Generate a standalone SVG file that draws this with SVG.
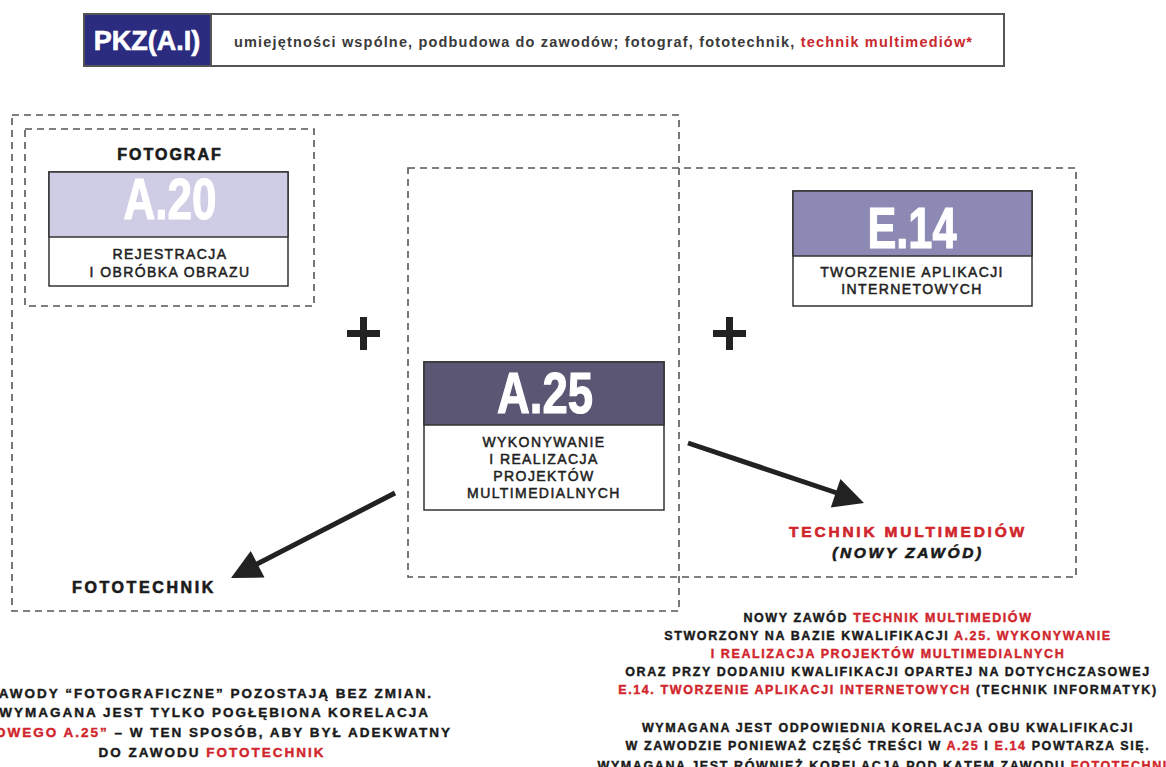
<svg xmlns="http://www.w3.org/2000/svg" width="1166" height="767" viewBox="0 0 1166 767">
<style>
.dash{fill:none;stroke:#555;stroke-width:1.6;stroke-dasharray:7 5}
.box{fill:#fff;stroke:#333;stroke-width:1.5}
.big{font-family:"Liberation Sans Narrow","Liberation Sans",Arial,sans-serif;font-weight:bold;fill:#fff;stroke:#fff;stroke-width:1.2;text-anchor:middle}
.sub{font-family:"Liberation Sans",Arial,sans-serif;font-size:14px;fill:#222;stroke:#222;stroke-width:0.5;letter-spacing:1.4px;text-anchor:middle}
.lbl{font-family:"Liberation Sans",Arial,sans-serif;font-weight:bold;fill:#1a1a1a;stroke:#1a1a1a;stroke-width:0.6;text-anchor:middle}
.note{font-family:"Liberation Sans",Arial,sans-serif;font-weight:bold;font-size:12.5px;letter-spacing:1.6px;fill:#1a1a1a;stroke:#1a1a1a;stroke-width:0.4;text-anchor:middle}
.noteL{font-family:"Liberation Sans",Arial,sans-serif;font-weight:bold;font-size:13.5px;letter-spacing:2px;fill:#1a1a1a;stroke:#1a1a1a;stroke-width:0.4}
.arr{stroke:#222;stroke-width:5;fill:none}
.head{fill:#222}
.plus{fill:#222}
.r{fill:#d1252c;stroke:#d1252c}
</style>

<g id="header">
  <rect x="84" y="14" width="920" height="52" fill="#fff" stroke="#555" stroke-width="2"/>
  <rect x="84" y="14" width="127" height="52" fill="#2b2c7f" stroke="#555" stroke-width="2"/>
  <text x="147" y="50" font-family="Liberation Sans, Arial, sans-serif" font-weight="bold" font-size="27" fill="#fff" stroke="#fff" stroke-width="0.6" text-anchor="middle">PKZ(A.I)</text>
  <text x="234" y="47" font-family="Liberation Sans, Arial, sans-serif" font-weight="bold" font-size="14.5" fill="#3a3a3a" textLength="738" lengthAdjust="spacing">umiejętności wspólne, podbudowa do zawodów; fotograf, fototechnik, <tspan fill="#c8282e">technik multimediów*</tspan></text>
</g>

<g id="groups">
  <rect class="dash" x="12" y="115" width="667" height="496"/>
  <rect class="dash" x="25" y="129" width="289" height="177"/>
  <rect class="dash" x="408" y="168" width="668" height="409"/>
</g>

<g id="fotograf">
  <text class="lbl" x="170" y="160" font-size="16" letter-spacing="2">FOTOGRAF</text>
</g>

<g id="a20">
  <rect class="box" x="49" y="172" width="239" height="114"/>
  <rect x="49" y="172" width="239" height="65" fill="#cfcce6" stroke="#333" stroke-width="1.5"/>
  <text class="big" x="170" y="219" font-size="57" textLength="93" lengthAdjust="spacingAndGlyphs">A.20</text>
  <text class="sub" x="170" y="259">REJESTRACJA</text>
  <text class="sub" x="170" y="277">I OBRÓBKA OBRAZU</text>
</g>

<g id="e14">
  <rect class="box" x="793" y="191" width="239" height="115"/>
  <rect x="793" y="191" width="239" height="65" fill="#8d89b5" stroke="#333" stroke-width="1.5"/>
  <text class="big" x="912" y="248" font-size="57" textLength="89" lengthAdjust="spacingAndGlyphs">E.14</text>
  <text class="sub" x="912" y="277">TWORZENIE APLIKACJI</text>
  <text class="sub" x="912" y="294">INTERNETOWYCH</text>
</g>

<g id="a25">
  <rect class="box" x="424" y="362" width="240" height="148"/>
  <rect x="424" y="362" width="240" height="63" fill="#5a5673" stroke="#333" stroke-width="1.5"/>
  <text class="big" x="545" y="413" font-size="57" textLength="96" lengthAdjust="spacingAndGlyphs">A.25</text>
  <text class="sub" x="544" y="447">WYKONYWANIE</text>
  <text class="sub" x="544" y="464">I REALIZACJA</text>
  <text class="sub" x="544" y="481">PROJEKTÓW</text>
  <text class="sub" x="544" y="498">MULTIMEDIALNYCH</text>
</g>

<g id="plus-left">
  <rect class="plus" x="347" y="330" width="33" height="7"/>
  <rect class="plus" x="360" y="317" width="7" height="33"/>
</g>
<g id="plus-right">
  <rect class="plus" x="713" y="330" width="33" height="7"/>
  <rect class="plus" x="726" y="317" width="7" height="33"/>
</g>

<g id="connectors">
  <line class="arr" x1="395" y1="493" x2="255" y2="565"/>
  <polygon class="head" points="231,578 250.7,550.9 264.5,577.5"/>
  <line class="arr" x1="688" y1="443" x2="840" y2="494"/>
  <polygon class="head" points="864,503 840.4,479.1 830.8,507.5"/>
</g>

<g id="fototechnik">
  <text class="lbl" x="144" y="593" font-size="16" letter-spacing="2.6">FOTOTECHNIK</text>
</g>

<g id="technik-multimediow">
  <text class="lbl r" x="908" y="537" font-size="15.5" letter-spacing="2.8">TECHNIK MULTIMEDIÓW</text>
  <text class="lbl" x="908" y="558" font-size="15.5" letter-spacing="2.6" font-style="italic">(NOWY ZAWÓD)</text>
</g>

<g id="note-right">
  <text class="note" x="888" y="622">NOWY ZAWÓD <tspan class="r">TECHNIK MULTIMEDIÓW</tspan></text>
  <text class="note" x="888" y="640">STWORZONY NA BAZIE KWALIFIKACJI <tspan class="r">A.25. WYKONYWANIE</tspan></text>
  <text class="note r" x="888" y="658">I REALIZACJA PROJEKTÓW MULTIMEDIALNYCH</text>
  <text class="note" x="888" y="676">ORAZ PRZY DODANIU KWALIFIKACJI OPARTEJ NA DOTYCHCZASOWEJ</text>
  <text class="note" x="888" y="694"><tspan class="r">E.14. TWORZENIE APLIKACJI INTERNETOWYCH</tspan> (TECHNIK INFORMATYK)</text>
  <text class="note" x="888" y="732">WYMAGANA JEST ODPOWIEDNIA KORELACJA OBU KWALIFIKACJI</text>
  <text class="note" x="888" y="750">W ZAWODZIE PONIEWAŻ CZĘŚĆ TREŚCI W <tspan class="r">A.25</tspan> I <tspan class="r">E.14</tspan> POWTARZA SIĘ.</text>
  <text class="note" x="888" y="770">WYMAGANA JEST RÓWNIEŻ KORELACJA POD KĄTEM ZAWODU <tspan class="r">FOTOTECHNIK</tspan></text>
</g>

<g id="note-left">
  <text class="noteL" x="433" y="698" text-anchor="end">AWODY “FOTOGRAFICZNE” POZOSTAJĄ BEZ ZMIAN.</text>
  <text class="noteL" x="430" y="717" text-anchor="end">WYMAGANA JEST TYLKO POGŁĘBIONA KORELACJA</text>
  <text class="noteL" x="452" y="737" text-anchor="end"><tspan class="r">OWEGO A.25”</tspan> – W TEN SPOSÓB, ABY BYŁ ADEKWATNY</text>
  <text class="noteL" x="212" y="757" text-anchor="middle">DO ZAWODU <tspan class="r">FOTOTECHNIK</tspan></text>
</g>
</svg>
